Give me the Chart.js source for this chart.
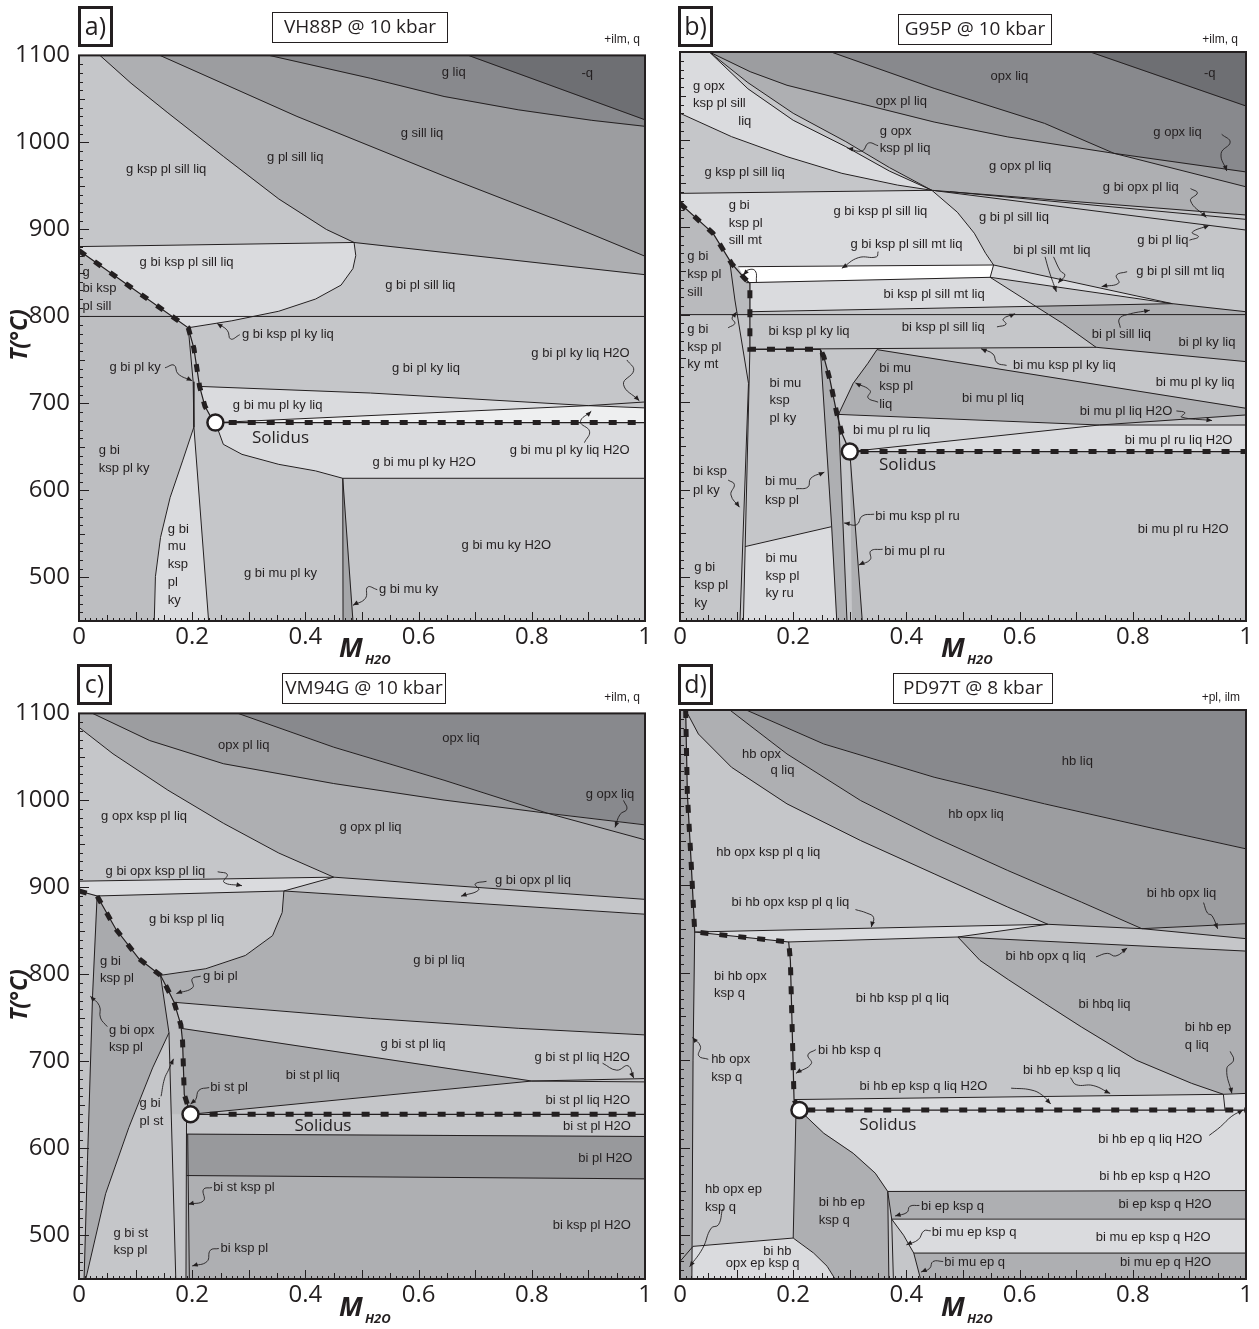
<!DOCTYPE html>
<html>
<head>
<meta charset="utf-8">
<script src="https://cdn.jsdelivr.net/npm/chart.js@4.4.1/dist/chart.umd.min.js"></script>
<style>
body{margin:0;background:#fff;width:1259px;height:1329px;overflow:hidden;position:relative;font-family:"Open Sans",sans-serif;color:#231f20}
canvas{position:absolute}
.tag{position:absolute;border:3px solid #231f20;width:35px;height:41px;box-sizing:border-box;font-size:25px;line-height:33px;text-align:center}
.ttl{position:absolute;border:1.5px solid #231f20;height:31px;box-sizing:border-box;font-size:19px;line-height:27px;text-align:center}
.extra{position:absolute;font-family:"Liberation Sans",Arial,sans-serif;font-size:12px;text-align:right;width:80px}
.xm{position:absolute;font-weight:bold;font-style:italic;font-size:27px;line-height:27px}
.xs{position:absolute;font-weight:bold;font-style:italic;font-size:13px;line-height:13px}
.yt{position:absolute;width:110px;height:30px;line-height:30px;text-align:center;transform:rotate(-90deg);font-weight:bold;font-style:italic;font-size:23px}
</style>
</head>
<body>

<canvas id="pa" width="658" height="634" style="left:0;top:32px"></canvas>
<canvas id="pb" width="658" height="634" style="left:601px;top:32px"></canvas>
<canvas id="pc" width="658" height="634" style="left:0;top:690px"></canvas>
<canvas id="pd" width="658" height="634" style="left:601px;top:690px"></canvas>

<div class="tag" style="left:78px;top:6px">a)</div>
<div class="ttl" style="left:272px;top:12px;width:176px">VH88P @ 10 kbar</div>
<div class="extra" style="left:560px;top:32px">+ilm, q</div>
<div class="tag" style="left:678px;top:6px">b)</div>
<div class="ttl" style="left:898px;top:14px;width:154px">G95P @ 10 kbar</div>
<div class="extra" style="left:1158px;top:32px">+ilm, q</div>
<div class="tag" style="left:77px;top:664px">c)</div>
<div class="ttl" style="left:282px;top:673px;width:164px">VM94G @ 10 kbar</div>
<div class="extra" style="left:560px;top:690px">+ilm, q</div>
<div class="tag" style="left:678px;top:664px">d)</div>
<div class="ttl" style="left:893px;top:673px;width:160px">PD97T @ 8 kbar</div>
<div class="extra" style="left:1160px;top:690px">+pl, ilm</div>

<div class="xm" style="left:339px;top:633px">M</div><div class="xs" style="left:365px;top:653px">H2O</div>
<div class="xm" style="left:941px;top:633px">M</div><div class="xs" style="left:967px;top:653px">H2O</div>
<div class="xm" style="left:339px;top:1292px">M</div><div class="xs" style="left:365px;top:1312px">H2O</div>
<div class="xm" style="left:941px;top:1292px">M</div><div class="xs" style="left:967px;top:1312px">H2O</div>
<div class="yt" style="left:-37px;top:320px">T(°C)</div>
<div class="yt" style="left:-37px;top:980px">T(°C)</div>

<script>
const INK="#231f20"
const S1="#6e6f73",S2="#88898d",S3="#9c9da0",S4="#aeafb2",S5="#c5c6c9",S6="#dadbde",S7="#eeeff0"

const xTicks=[0,0.2,0.4,0.6,0.8,1]
const yTicks=[500,600,700,800,900,1000,1100]
const rect=[[0,1100],[1,1100],[1,450],[0,450]]
const rev=a=>a.slice().reverse()

// a) VH88P
const aQ=[[.688,1100],[1,1026]]
const aLiq=[[.336,1100],[.515,1073.7],[.645,1052.8],[.776,1037.5],[.906,1025.4],[1,1018.5]]
const aSill=[[.143,1100],[.385,1029.9],[.645,961.4],[.841,911.9],[1,869.2]]
const aKsp=[[.037,1100],[.092,1068],[.157,1034],[.255,984],[.353,935],[.437,900],[.486,885]]
const aPlSill=[[.486,885],[1,848]]
const aBi=[[0,880.3],[.486,885]]
const aBiOut=[[.486,885],[.489,870],[.484,855],[.463,836],[.418,820],[.353,806],[.27,795],[.193,787]]
const aKy=[[0,800],[1,800]]
const aSol=[[0,875.7],[.193,787],[.203,763.4],[.213,719.6],[.2225,696.8],[.235,682],[.241,678],[1,678]]
const aG=[[.193,787],[.2017,725],[.203,673],[.229,450]]
const aLens=[[.203,673],[.183,634],[.161,592],[.144,546],[.135,501],[.133,450]]
const aMuIn=[[.213,719.6],[.515,712],[.9,697.5]]
const aMuLiq=[[.241,678],[.9,697.5]]
const aX1=[[.9,697.5],[1,701.7]]
const aX2=[[.9,697.5],[1,694.9]]
const aSub=[[.241,678],[.255,653],[.288,641.5],[.353,630],[.418,622.5],[.466,614]]
const aPlOut=[[.466,614],[1,614]]
const aW1=[[.466,614],[.4665,450]]
const aW2=[[.466,614],[.484,450]]
const aPoint=[[.241,678]]

const aLabels=[["g liq",.662,1080.6],["-q",.898,1079.4],["g sill liq",.606,1010.9],["g pl sill liq",.382,982.3],
["g ksp pl sill liq",.154,969],["g bi ksp pl sill liq",.19,862.4],["g bi pl sill liq",.603,835.7],
["g",.006,851,"l"],["bi ksp",.006,831.9,"l"],["pl sill",.006,811,"l"],["g bi ksp pl ky liq",.288,779.4,"l"],
["g bi pl ky",.099,741.3],["g bi pl ky liq",.613,740.6],["g bi pl ky liq H2O",.886,757],["g bi mu pl ky liq",.351,697.9],
["Solidus",.356,660.6],["g bi mu pl ky liq H2O",.867,646.1],["g bi",.035,646.1,"l"],["ksp pl ky",.035,625.6,"l"],
["g bi mu pl ky H2O",.61,632],["g bi",.157,554.7,"l"],["mu",.157,535.7,"l"],["ksp",.157,515.1,"l"],["pl",.157,493.8,"l"],
["ky",.157,473.2,"l"],["g bi mu pl ky",.356,504.5],["g bi mu ky H2O",.755,536.8],["g bi mu ky",.53,486.2,"l"]]

const aLeaders=[[[.284,779],[.268,774],[.262,784],[.244,792]],[[.152,741],[.168,744],[.175,734],[.2,726]],
[[.968,750],[.98,738],[.962,722],[.99,703]],[[.893,655],[.902,668],[.886,679],[.905,691]],
[[.527,486],[.51,489],[.506,476],[.484,468]]]

// b) G95P
const bQ=[[.725,1100],[1,1038.3]]
const bOpxLiq=[[.267,1100],[.449,1058.5],[.644,1018.5],[.767,984.2],[1,946]]
const bPl=[[.052,1100],[.124,1077.5],[.189,1062],[.319,1041],[.449,1020],[.579,1003],[.767,984.2],[1,963]]
const bKspA=[[.052,1100],[.12,1065],[.2,1030],[.293,997.6],[.37,968],[.445,942]]
const bKspB=[[.052,1100],[.12,1058],[.2,1022],[.293,991.8],[.37,964],[.445,942]]
const bSill=[[0,1030],[.091,1003.3],[.189,980.4],[.286,961.4],[.384,948],[.445,942]]
const bOpx=[[0,938.5],[.445,942]]
const bKspOut=[[.445,942],[.49,917],[.52,893],[.54,870],[.554,856.7],[.548,842.6]]
const bFan1=[[.445,942],[1,913.8]]
const bFan2=[[.477,940.4],[1,908.8]]
const bFan3=[[.451,941.5],[1,896.6]]
const bMt1=[[.103,854.7],[.554,856.7]]
const bMt2=[[.117,836.5],[.548,842.6]]
const bMt3=[[.554,856.7],[.87,812.5],[1,803.3]]
const bMt4=[[.548,842.6],[.87,812.5]]
const bMt5=[[.1235,803.3],[.87,812.5]]
const bKspOut2=[[.548,842.6],[.611,816.7],[.6285,809.5],[.676,790],[.735,762.7]]
const bKy=[[0,800],[1,800]]
const bSol=[[0,927],[.0585,892.8],[.091,858.6],[.114,841.4],[.1235,835.7],[.1235,760.4],[.248,760.4],[.254,752],[.265,725.3],[.277,687.2],[.286,664.4],[.3,643.5],[1,643.5]]
const bMtOut=[[.088,860],[.097,816.7],[.121,721.5],[.106,450]]
const bKspL=[[.1235,760.4],[.112,450]]
const bMuIn=[[.1235,760.4],[.735,762.7]]
const bKyR=[[.735,762.7],[1,746.3]]
const bLiqMu=[[.28,686],[.306,721.5],[.332,744.4],[.348,760]]
const bMuPl=[[.348,760],[1,693]]
const bRuIn=[[.28,686],[.741,673.9]]
const bRuLiq=[[.3,643.5],[.741,673.9]]
const bX1=[[.741,673.9],[1,685.4]]
const bX2=[[.741,673.9],[1,673.9]]
const bRu=[[.115,535],[.268,557.8]]
const bSA=[[.248,760.4],[.268,557.8],[.277,450]]
const bSB=[[.28,686],[.295,450]]
const bSC=[[.3,643.5],[.322,450]]
const bPoint=[[.3,643.5]]

const bLabels=[["opx liq",.582,1071.8],["-q",.936,1075.6],["g opx",.023,1061.2,"l"],["ksp pl sill",.023,1041.4,"l"],["liq",.103,1020.4,"l"],
["opx pl liq",.391,1043.3],["g opx",.353,1009.7,"l"],["ksp pl liq",.353,989.9,"l"],["g opx liq",.879,1007.8],
["g ksp pl sill liq",.114,962.1],["g opx pl liq",.601,969.8],["g bi opx pl liq",.814,945],["g bi",.086,925.2,"l"],
["ksp pl",.086,904.3,"l"],["sill mt",.086,884.5,"l"],["g bi ksp pl sill liq",.354,918.4],["g bi pl sill liq",.59,911.1],
["g bi pl liq",.853,884.5],["g bi",.013,866.2,"l"],["ksp pl",.013,846,"l"],["sill",.013,825.8,"l"],
["g bi ksp pl sill mt liq",.4,880.3],["bi pl sill mt liq",.657,873.8],["g bi pl sill mt liq",.884,849],
["bi ksp pl sill mt liq",.449,823.5],["bi ksp pl sill liq",.465,785.5],["bi pl sill liq",.78,777.9],["bi pl ky liq",.931,768.4],
["g bi",.013,783.2,"l"],["ksp pl",.013,762.7,"l"],["ky mt",.013,743.2,"l"],["bi ksp pl ky liq",.228,780.5],
["bi mu ksp pl ky liq",.679,742.5],["bi mu pl ky liq",.91,722.7],["bi mu",.158,721.5,"l"],["ksp",.158,701.7,"l"],["pl ky",.158,681.5,"l"],
["bi mu",.352,738.7,"l"],["ksp pl",.352,717.7,"l"],["liq",.352,697.5,"l"],["bi mu pl liq",.553,704.4],["bi mu pl liq H2O",.788,689.9],
["bi mu pl ru liq",.374,668.2],["bi mu pl ru liq H2O",.881,656],["Solidus",.402,627.5],["bi ksp",.023,620.6,"l"],["pl ky",.023,599.7,"l"],
["bi mu",.15,609.2,"l"],["ksp pl",.15,588.2,"l"],["bi mu ksp pl ru",.345,570,"l"],["bi mu pl ru H2O",.889,555.1],["bi mu pl ru",.361,529.6,"l"],
["bi mu",.151,521.6,"l"],["ksp pl",.151,501.4,"l"],["ky ru",.151,481.6,"l"],["g bi",.025,511.3,"l"],["ksp pl",.025,490.8,"l"],["ky",.025,470.2,"l"]]

const bLeaders=[[[.35,993],[.333,996],[.322,987],[.296,990]],[[.957,1006],[.972,997],[.956,984],[.966,964]],
[[.902,944],[.914,939],[.902,930],[.93,911]],[[.9,885],[.916,889],[.905,894],[.935,902]],
[[.35,872],[.347,866],[.315,865],[.286,853]],[[.79,849],[.771,845],[.775,836],[.745,832]],
[[.66,866],[.672,850],[.68,845],[.668,836]],[[.645,866],[.652,850],[.665,826]],
[[.56,786],[.576,789],[.571,795],[.592,801]],[[.778,785],[.776,795],[.79,800],[.83,805]],
[[.577,742],[.56,745],[.553,755],[.532,761]],[[.877,690],[.892,688],[.886,683],[.94,679]],
[[.35,700],[.332,705],[.336,713],[.31,722]],[[.085,611],[.096,606],[.09,594],[.105,580]],
[[.205,601],[.226,603],[.231,613],[.255,620]],[[.343,572],[.322,570],[.312,560],[.29,562]],
[[.358,532],[.337,530],[.336,520],[.316,514]],[[.085,785],[.097,790],[.092,796],[.1,803]],
[[.135,837],[.133,850],[.12,851],[.112,845]]]

// c) VM94G
const cOpxLiq=[[.281,1100],[.45,1061.2],[.645,1023.2],[.828,985.2],[1,954.7]]
const cPl=[[.024,1100],[.125,1068.8],[.255,1042.2],[.45,1019.4],[.645,1000.4],[.828,985.2],[1,971.9]]
const cKsp=[[0,1084],[.06,1053.6],[.157,1011.8],[.255,973.8],[.353,939.5],[.45,911.8]]
const cBi1=[[0,907.2],[.45,911.8]]
const cBi2=[[.032,890.2],[.362,895.9],[.45,911.8]]
const cBi3=[[.45,911.8],[1,886.3]]
const cBi4=[[.362,895.9],[1,869.2]]
const cKspOut=[[.362,895.9],[.359,871.2],[.342,844.6],[.294,821.8],[.224,806.6],[.144,799]]
const cSol=[[0,895.9],[.032,890.2],[.065,852.2],[.106,818],[.144,799],[.156,783.8],[.168,768],[.18,742],[.183,723],[.186,662.1],[.197,639.3],[1,639.3]]
const cOpxOut=[[.032,890.2],[.024,776.2],[.015,586.1],[.009,450]]
const cSt=[[.012,450],[.047,548],[.088,624],[.13,692.6],[.159,733]]
const cKspIn=[[.144,799],[.159,733],[.171,450]]
const cStLiq1=[[.168,768],[.515,749.5],[.776,738.1],[1,730.5]]
const cStLiq2=[[.181,738],[.8,677.5]]
const cH2O=[[.197,639.3],[.8,677.5]]
const cX1=[[.8,677.5],[1,680.3]]
const cX2=[[.8,677.5],[1,676.5]]
const cStOut=[[.19,616.5],[1,613.8]]
const cKspIn2=[[.19,568.9],[1,565.1]]
const cV1=[[.19,639.3],[.189,450]]
const cV2=[[.192,616.5],[.195,450]]
const cPoint=[[.197,639.3]]

const cLabels=[["opx pl liq",.291,1063.1],["opx liq",.675,1070.7],["g opx liq",.938,1007.2],["g opx ksp pl liq",.115,982.1],
["g opx pl liq",.515,969.2],["g bi opx ksp pl liq",.135,918.1],["g bi opx pl liq",.802,907.5],["g bi ksp pl liq",.19,862.8],
["g bi pl liq",.636,816],["g bi",.037,814.9,"l"],["ksp pl",.037,795.1,"l"],["g bi pl",.219,798.1,"l"],["g bi opx",.053,736.2,"l"],
["ksp pl",.053,716,"l"],["g bi st pl liq",.59,719.1],["g bi st pl liq H2O",.889,705],["bi st pl liq",.413,683.7],["bi st pl",.232,669.7,"l"],
["bi st pl liq H2O",.899,655.6],["g bi",.107,651.4,"l"],["pl st",.107,630.9,"l"],["Solidus",.431,625.9],["bi st pl H2O",.915,624.8],
["bi pl H2O",.93,589.1],["bi st ksp pl",.237,554.9,"l"],["bi ksp pl H2O",.906,511.9],["g bi st",.061,502.4,"l"],["ksp pl",.061,482.3,"l"],
["bi ksp pl",.25,484.9,"l"]]

const cLeaders=[[[.245,918],[.262,915],[.256,906],[.288,902]],[[.72,907],[.7,904],[.706,897],[.675,890]],
[[.962,1000],[.968,990],[.956,984],[.947,969]],[[.215,798],[.2,795],[.201,785],[.172,778]],
[[.05,740],[.038,750],[.036,764],[.02,775]],[[.145,660],[.151,680],[.158,690],[.167,703]],
[[.23,670],[.212,667],[.206,656],[.197,651]],[[.925,698],[.95,690],[.97,695],[.98,681]],
[[.235,555],[.22,553],[.22,540],[.193,536]],[[.247,485],[.232,483],[.226,470],[.2,465]]]

// d) PD97T
const dHbLiq=[[.117,1100],[.254,1061.2],[.449,1023.2],[.644,992.8],[.839,964.3],[1,941.4]]
const dOpxLiq=[[.088,1100],[.189,1049.8],[.319,996.6],[.449,954.7],[.579,916.7],[.709,880.6],[.816,850.2],[1,838.8]]
const dQ=[[.01,1100],[.0325,1072.6],[.091,1034.6],[.189,992.8],[.319,950.9],[.449,912.9],[.579,874.9],[.65,855.2]]
const dBi=[[.65,855.2],[.816,850.2],[1,855.9]]
const dKsp1=[[.026,846.4],[.65,855.2]]
const dKsp2=[[.192,835],[.491,840.7],[.65,855.2]]
const dOpxOut=[[.491,840.7],[1,824.6]]
const dQOut=[[.491,840.7],[.53,814],[.58,792],[.644,765],[.709,738],[.806,700],[.904,673.5],[.96,661]]
const dEpIn=[[.2015,655],[.96,661],[1,662]]
const dEpQ=[[.96,661],[.963,643]]
const dSol=[[.01,1100],[.013,1004.2],[.0195,928.1],[.026,846.4],[.192,835],[.195,814.1],[.2015,655],[.211,643],[1,643]]
const dStrip=[[.026,846.4],[.023,700],[.021,450]]
const dPlOut=[[.205,643],[.2,496.8]]
const dEp=[[0,470],[.023,487.3],[.2,496.8],[.236,479.7],[.26,464.5],[.274,450]]
const dSub=[[.211,643],[.254,616.5],[.306,593.6],[.345,570.9],[.367,550]]
const dHbOut=[[.367,550],[1,551]]
const dV=[[.367,550],[.369,450]]
const dMu1=[[.374,518.4],[1,518.4]]
const dMuIn=[[.367,550],[.374,518.4],[.395,500],[.413,479.6],[.425,450]]
const dMu2=[[.413,479.6],[1,479.6]]
const dV2=[[.374,518.4],[.377,450]]
const dPoint=[[.211,643]]

const dLabels=[["hb liq",.702,1041],["hb opx",.144,1049.8],["q liq",.181,1030.8],["hb opx liq",.523,980.6],
["hb opx ksp pl q liq",.156,936.9],["bi hb opx ksp pl q liq",.195,879.9],["bi hb opx liq",.886,890.1],["bi hb opx q liq",.646,818.7],
["bi hb opx",.06,795.9,"l"],["ksp q",.06,776.1,"l"],["bi hb ksp pl q liq",.393,770.4],["bi hbq liq",.75,763.5],
["bi hb ep",.892,737.3,"l"],["q liq",.892,716.4,"l"],["hb opx",.055,700.8,"l"],["ksp q",.055,680.3,"l"],["bi hb ksp q",.244,710.7,"l"],
["bi hb ep ksp q liq",.692,688.7],["bi hb ep ksp q liq H2O",.43,669.7],["Solidus",.367,626],["bi hb ep q liq H2O",.831,610],
["bi hb ep ksp q H2O",.839,567],["hb opx ep",.044,552.6,"l"],["ksp q",.044,532.1,"l"],["bi hb ep",.245,537.8,"l"],["ksp q",.245,516.9,"l"],
["bi ep ksp q",.426,532.8,"l"],["bi ep ksp q H2O",.857,534.7],["bi mu ep ksp q",.445,503.2,"l"],["bi mu ep ksp q H2O",.836,497.5],
["bi hb",.172,481.5],["opx ep ksp q",.146,467.4],["bi mu ep q",.467,469.4,"l"],["bi mu ep q H2O",.858,469.4]]

const dLeaders=[[[.31,872],[.33,868],[.342,863],[.338,852]],[[.925,880],[.932,868],[.94,865],[.95,850]],
[[.735,818],[.755,822],[.77,819],[.79,828]],[[.05,701],[.033,705],[.036,716],[.022,726]],
[[.24,712],[.226,706],[.232,696],[.205,685]],[[.585,668],[.62,666],[.64,660],[.655,650]],
[[.69,680],[.7,672],[.73,671],[.76,662]],[[.972,710],[.978,700],[.966,690],[.975,662]],
[[.935,614],[.955,624],[.975,636],[.995,643]],[[.423,534],[.406,533],[.401,526],[.38,522]],
[[.443,505],[.431,505],[.421,495],[.4,489]],[[.465,470],[.447,470],[.441,462],[.426,458]],
[[.075,530],[.068,512],[.055,508],[.04,485],[.017,464]]]

// fields, painted in order
const aFills=[[rect,S5],[[...aKsp,[1,848],[1,1100]],S4],[[...aSill,[1,1100]],S3],[[...aLiq,[1,1100]],S2],[[...aQ,[1,1100]],S1],
[[...aBi,...aBiOut.slice(1),[0,875.7]],S6],
[[[0,875.7],[.193,787],...aG.slice(1,3),...aLens.slice(1),[0,450]],"#bdbec1"],
[[...aLens,[.229,450]],S6],
[[...aSol.slice(3,7),[.9,697.5],[.515,712]],S6],
[[[.241,678],[.9,697.5],[1,694.9],[1,678]],S7],
[[[.241,678],[1,678],[1,614],...rev(aSub)],S6],
[[[.466,614],[.484,450],[.4665,450]],"#a5a6a9"]]
const aLines=[aQ,aLiq,aSill,aKsp,aPlSill,aBi,aBiOut,aKy,aG,aLens,aMuIn,aMuLiq,aX1,aX2,aSub,aPlOut,aW1,aW2]

const bFills=[[rect,S5],[[...bKspA,[1,913.8],[1,1100]],S4],
[[...bPl.slice(0,7),...rev(bOpxLiq.slice(0,4))],S3],[[[.767,984.2],[1,963],[1,946]],S3],
[[...bOpxLiq.slice(0,4),[1,963],[1,1100]],S2],[[...bQ,[1,1100]],S1],
[[[0,1100],...bKspB,...rev(bSill)],S6],[[...bKspA,...rev(bKspB)],S5],
[[...bOpx,...bKspOut.slice(1,5),[.103,854.7],[.091,858.6],[.0585,892.8],[0,927]],S6],
[[[.103,854.7],[.554,856.7],[.548,842.6],[.117,836.5],[.114,841.4]],"#ffffff"],
[[[.117,836.5],[.548,842.6],[.611,816.7],[.6285,809.5],[.1235,803.3],[.1235,835.7]],S6],
[[[.554,856.7],[.87,812.5],[.548,842.6]],S6],
[[[.6285,809.5],[.87,812.5],[1,803.3],[1,746.3],[.735,762.7],[.676,790]],S4],
[[[0,927],[.0585,892.8],[.091,858.6],[.114,841.4],[.1235,835.7],[.1235,800],[0,800]],"#b9babd"],
[[[.115,535],[.268,557.8],[.277,450],[.112,450]],S6],
[[...bSA,[.295,450],[.28,686],[.277,687.2],[.265,725.3],[.254,752]],S4],
[[[.3,643.5],[.322,450],[.304,450]],S4],
[[...bLiqMu,[1,693],[1,685.4],[.741,673.9]],S4],
[[[.28,686],[.741,673.9],[.3,643.5],[.286,664.4],[.277,687.2]],"#d2d3d6"],
[[[.3,643.5],[.741,673.9],[1,673.9],[1,643.5]],S6]]
const bLines=[bQ,bOpxLiq,bPl,bKspA,bKspB,bSill,bOpx,bKspOut,bFan1,bFan2,bFan3,bMt1,bMt2,bMt3,bMt4,bMt5,bKspOut2,bKy,bMtOut,bKspL,bMuIn,bKyR,bLiqMu,bMuPl,bRuIn,bRuLiq,bX1,bX2,bRu,bSA,bSB,bSC]

const cFills=[[rect,S4],[[...cOpxLiq.slice(0,4),[1,971.9],[1,1100]],S2],
[[...cPl.slice(0,6),...rev(cOpxLiq.slice(0,4))],S3],[[[.828,985.2],[1,971.9],[1,954.7]],"#a3a4a7"],
[[...cKsp,[0,907.2]],S5],[[[0,907.2],[.45,911.8],[.362,895.9],[.032,890.2],[0,895.9]],S6],
[[[.45,911.8],[1,886.3],[1,869.2],[.362,895.9]],S5],
[[[.032,890.2],...cKspOut,[.106,818],[.065,852.2]],S5],
[[[0,895.9],...cOpxOut,[0,450]],"#c2c3c6"],
[[...cOpxOut,...cSt,[.144,799],[.106,818],[.065,852.2]],"#a9aaad"],
[[...cSt,[.171,450]],S5],
[[[.144,799],[.156,783.8],[.168,768],[.18,742],[.183,723],[.186,662.1],[.19,639.3],[.163,639.3],[.159,733]],"#bcbdc0"],
[[[.163,639.3],[.19,639.3],[.189,450],[.171,450]],S5],
[[...cStLiq1,[1,680.3],[.8,677.5],[.181,738],[.18,742]],S5],
[[[.181,738],[.8,677.5],[.197,639.3],[.186,662.1],[.183,723]],"#a9aaad"],
[[[.197,639.3],[.8,677.5],[1,680.3],[1,639.3]],S5],
[[[.19,639.3],[1,639.3],[1,613.8],[.19,616.5]],S5],
[[[.19,616.5],[1,613.8],[1,565.1],[.19,568.9]],"#98999c"]]
const cLines=[cOpxLiq,cPl,cKsp,cBi1,cBi2,cBi3,cBi4,cKspOut,cOpxOut,cSt,cKspIn,cStLiq1,cStLiq2,cH2O,cX1,cX2,cStOut,cKspIn2,cV1,cV2]

const dFills=[[rect,S5],[[...dHbLiq,[1,1100]],S2],
[[...dOpxLiq.slice(0,7),[1,855.9],...rev(dHbLiq)],S3],
[[...dOpxLiq.slice(0,7),...rev(dQ)],S4],
[[[.816,850.2],[1,855.9],[1,838.8]],S4],
[[[.026,846.4],[.65,855.2],[.491,840.7],[.192,835]],S6],
[[...dQOut,[1,662],[1,824.6]],S4],
[[[.2015,655],[.96,661],[1,662],[1,643],[.211,643]],S6],
[[[.211,643],[1,643],[1,551],...rev(dSub)],S6],
[[[.205,643],...dSub,[.369,450],[.274,450],[.26,464.5],[.236,479.7],[.2,496.8]],S4],
[[[.367,550],[1,551],[1,518.4],[.374,518.4]],S4],
[[[.374,518.4],[1,518.4],[1,479.6],[.413,479.6],[.395,500]],S6],
[[[.413,479.6],[1,479.6],[1,450],[.425,450]],S4],
[[[0,1100],[.01,1100],[.013,1004.2],[.0195,928.1],[.026,846.4],[.023,700],[.021,450],[0,450]],"#a9aaad"],
[[[.023,487.3],[.2,496.8],[.236,479.7],[.26,464.5],[.274,450],[.021,450]],S6]]
const dLines=[dHbLiq,dOpxLiq,dQ,dBi,dKsp1,dKsp2,dOpxOut,dQOut,dEpIn,dEpQ,dStrip,dPlOut,dEp,dSub,dHbOut,dV,dMu1,dMuIn,dMu2,dV2]

const pts=arr=>arr.map(([x,y])=>({x,y}))

function buildDatasets(fills,lines,leaders,sol,point){
const ds=[]
fills.forEach(([poly,color],i)=>{
ds.push({data:pts(poly),fill:"shape",backgroundColor:color,borderColor:color,borderWidth:.6,pointRadius:0,order:1000-i})
})
lines.forEach(l=>{
ds.push({data:pts(l),fill:false,borderColor:INK,borderWidth:1,pointRadius:0,order:20})
})
leaders.forEach(l=>{
ds.push({data:pts(l),fill:false,borderColor:INK,borderWidth:.9,tension:.45,pointRadius:0,order:15})
})
ds.push({data:pts(sol),fill:false,borderColor:INK,borderWidth:1.2,pointRadius:0,order:12})
ds.push({data:pts(sol),fill:false,borderColor:INK,borderWidth:5,borderDash:[8,11],borderCapStyle:"butt",pointRadius:0,order:11})
ds.push({data:pts(point),showLine:false,pointRadius:8,pointBackgroundColor:"#fff",pointBorderColor:INK,pointBorderWidth:2.5,order:1})
return ds
}

const deco={
id:"deco",
afterDatasetsDraw(chart,args,opts){
const {ctx,chartArea:a,scales:{x,y}}=chart
ctx.save()
ctx.strokeStyle=INK
ctx.fillStyle=INK
ctx.lineWidth=1
ctx.beginPath()
for(let i=0;i<=100;i++){
const px=Math.round(x.getPixelForValue(i/100))+.5
const len=i%10===0?9:i%5===0?6:3
ctx.moveTo(px,a.bottom)
ctx.lineTo(px,a.bottom-len)
}
for(let t=450;t<=1100;t+=10){
const py=Math.round(y.getPixelForValue(t))+.5
const len=t%100===0?10:t%50===0?6:4
ctx.moveTo(a.left,py)
ctx.lineTo(a.left+len,py)
}
ctx.stroke()
// arrow heads at leader ends
opts.leaders.forEach(l=>{
const [x0,y0]=l[l.length-2],[x1,y1]=l[l.length-1]
const px0=x.getPixelForValue(x0),py0=y.getPixelForValue(y0)
const px1=x.getPixelForValue(x1),py1=y.getPixelForValue(y1)
const ang=Math.atan2(py1-py0,px1-px0)
ctx.beginPath()
ctx.moveTo(px1,py1)
ctx.lineTo(px1-6*Math.cos(ang-.4),py1-6*Math.sin(ang-.4))
ctx.lineTo(px1-6*Math.cos(ang+.4),py1-6*Math.sin(ang+.4))
ctx.closePath()
ctx.fill()
})
ctx.textBaseline="middle"
opts.labels.forEach(([txt,mx,ty,al])=>{
ctx.font=txt==="Solidus"?'17px "Open Sans", sans-serif':'13px "Liberation Sans", Arial, sans-serif'
ctx.textAlign=al==="l"?"left":"center"
ctx.fillText(txt,x.getPixelForValue(mx),y.getPixelForValue(ty))
})
ctx.lineWidth=2
ctx.strokeRect(a.left,a.top,a.width,a.height)
ctx.restore()
}
}

function makePanel(id,fills,lines,leaders,sol,point,labels,showY){
new Chart(document.getElementById(id),{
type:"line",
data:{datasets:buildDatasets(fills,lines,leaders,sol,point)},
options:{
responsive:false,animation:false,events:[],
layout:{padding:{left:0,right:13,top:20,bottom:0}},
plugins:{legend:{display:false},tooltip:{enabled:false},deco:{labels,leaders}},
scales:{
x:{type:"linear",min:0,max:1,afterFit:s=>{s.height=45},
grid:{display:false,drawTicks:false},border:{display:false},
afterBuildTicks:s=>{s.ticks=xTicks.map(v=>({value:v}))},
ticks:{padding:2,maxRotation:0,autoSkip:false,color:INK,font:{family:"Open Sans",size:24},
callback:v=>v===0?"0":v===1?"1":v.toFixed(1)}},
y:{type:"linear",min:450,max:1100,afterFit:s=>{s.width=79},
grid:{display:false,drawTicks:false},border:{display:false},
afterBuildTicks:s=>{s.ticks=yTicks.map(v=>({value:v}))},
ticks:{display:showY,padding:9,autoSkip:false,color:INK,font:{family:"Open Sans",size:24},callback:v=>String(v)}}
}
},
plugins:[deco]
})
}

makePanel("pa",aFills,aLines,aLeaders,aSol,aPoint,aLabels,true)
makePanel("pb",bFills,bLines,bLeaders,bSol,bPoint,bLabels,false)
makePanel("pc",cFills,cLines,cLeaders,cSol,cPoint,cLabels,true)
makePanel("pd",dFills,dLines,dLeaders,dSol,dPoint,dLabels,false)
</script>
</body>
</html>
